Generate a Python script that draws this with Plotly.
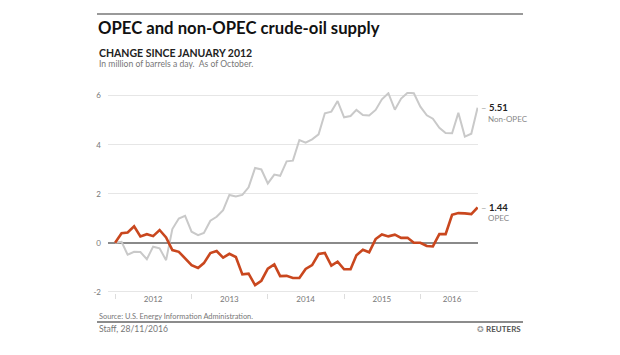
import pandas as pd
import plotly.graph_objects as go

months = pd.date_range("2012-01-01", "2016-10-01", freq="MS")

non_opec = [0, 0.04, -0.49, -0.37, -0.38, -0.67, -0.16, -0.23, -0.71, 0.56, 0.99, 1.10,
            0.45, 0.31, 0.40, 0.90, 1.06, 1.33, 1.95, 1.89, 1.95, 2.26, 3.05, 2.99,
            2.42, 2.78, 2.73, 3.32, 3.35, 4.19, 4.08, 4.22, 4.42, 5.28, 5.35, 5.78,
            5.12, 5.17, 5.42, 5.21, 5.19, 5.42, 5.85, 6.10, 5.43, 5.88, 6.12, 6.10,
            5.55, 5.20, 5.06, 4.69, 4.48, 4.47, 5.30, 4.33, 4.45, 5.51]

opec = [0, 0.39, 0.42, 0.67, 0.26, 0.35, 0.27, 0.52, 0.22, -0.30, -0.37, -0.63,
        -0.91, -1.03, -0.83, -0.42, -0.34, -0.61, -0.45, -0.58, -1.29, -1.26, -1.73, -1.55,
        -1.06, -0.88, -1.36, -1.35, -1.44, -1.44, -1.07, -0.91, -0.46, -0.42, -0.93, -0.77,
        -1.08, -1.08, -0.51, -0.29, -0.39, 0.15, 0.34, 0.26, 0.33, 0.20, 0.20, 0.0,
        0.0, -0.13, -0.15, 0.35, 0.35, 1.14, 1.21, 1.20, 1.17, 1.44]

year_labels = ["2012", "2013", "2014", "2015", "2016"]
year_label_pos = ["2012-07-01", "2013-07-01", "2014-07-01", "2015-07-01", "2016-06-01"]
year_ticks = ["2012-01-01", "2013-01-01", "2014-01-01", "2015-01-01", "2016-01-01"]
y_ticks = [-2, 0, 2, 4, 6]
y_ticktext = ["-2", "0", "2", "4", "6"]

W, H = 620, 355
ML, MR, MT, MB = 108, 142, 92, 62
PW, PH = W - ML - MR, H - MT - MB

def px(x):
    return (x - ML) / PW

def py(y):
    return (H - MB - y) / PH

FONT = "Lato"
ORANGE = "#c9471e"
GREY = "#c9c9c9"

fig = go.Figure()
fig.add_trace(go.Scatter(x=months, y=non_opec, mode="lines",
                         line=dict(color=GREY, width=2), hoverinfo="skip"))
fig.add_trace(go.Scatter(x=months, y=opec, mode="lines",
                         line=dict(color=ORANGE, width=2.6), hoverinfo="skip"))

fig.update_layout(
    width=W, height=H,
    margin=dict(l=ML, r=MR, t=MT, b=MB),
    paper_bgcolor="white", plot_bgcolor="white",
    showlegend=False,
    font=dict(family=FONT, color="#777"),
    xaxis=dict(
        type="date",
        range=["2011-11-28", "2016-10-03"],
        tickmode="array", tickvals=year_label_pos, ticktext=year_labels,
        ticks="", showgrid=False, zeroline=False, showline=False,
        tickfont=dict(size=8, color="#777"),
        minor=dict(tickmode="array", tickvals=year_ticks, ticks="outside",
                   ticklen=5, tickcolor="#ddd", tickwidth=1, showgrid=False),
    ),
    yaxis=dict(
        range=[-2.05, 6.15],
        tickmode="array", tickvals=y_ticks, ticktext=y_ticktext,
        showgrid=True, gridcolor="#e6e6e6", gridwidth=1,
        zeroline=True, zerolinecolor="#8a8a8a", zerolinewidth=1.7,
        ticks="", showline=False, ticklabelstandoff=6,
        tickfont=dict(size=8, color="#777"),
    ),
)

annotations = [
    dict(x=px(96), y=py(28), xref="paper", yref="paper", xanchor="left", yanchor="middle",
         text="<b>OPEC and non-OPEC crude-oil supply</b>", showarrow=False,
         font=dict(size=16.7, color="#111", family=FONT)),
    dict(x=px(97), y=py(53), xref="paper", yref="paper", xanchor="left", yanchor="middle",
         text="<b>CHANGE SINCE JANUARY 2012</b>", showarrow=False,
         font=dict(size=10.5, color="#222", family=FONT)),
    dict(x=px(97), y=py(64), xref="paper", yref="paper", xanchor="left", yanchor="middle",
         text="In million of barrels a day.  As of October.", showarrow=False,
         font=dict(size=8.6, color="#777", family=FONT)),
    dict(x=px(97), y=py(316), xref="paper", yref="paper", xanchor="left", yanchor="middle",
         text="Source: U.S. Energy Information Administration.", showarrow=False,
         font=dict(size=7.4, color="#777", family=FONT)),
    dict(x=px(97), y=py(329), xref="paper", yref="paper", xanchor="left", yanchor="middle",
         text="Staff, 28/11/2016", showarrow=False,
         font=dict(size=8.6, color="#777", family=FONT)),
    dict(x=px(523), y=py(329), xref="paper", yref="paper", xanchor="right", yanchor="middle",
         text="<span style='color:#999'>✪</span> <b>REUTERS</b>", showarrow=False,
         font=dict(size=8, color="#555", family=FONT)),
    dict(x=months[-1], y=non_opec[-1], xref="x", yref="y", xanchor="left", yanchor="middle",
         text="<span style='color:#aaa'>–</span> <b>%.2f</b>" % non_opec[-1], showarrow=False,
         xshift=1, font=dict(size=9.5, color="#222", family=FONT)),
    dict(x=months[-1], y=non_opec[-1], xref="x", yref="y", xanchor="left", yanchor="middle",
         text="Non-OPEC", showarrow=False, xshift=8, yshift=-11,
         font=dict(size=8, color="#888", family=FONT)),
    dict(x=months[-1], y=opec[-1], xref="x", yref="y", xanchor="left", yanchor="middle",
         text="<span style='color:#aaa'>–</span> <b>%.2f</b>" % opec[-1], showarrow=False,
         xshift=1, font=dict(size=9.5, color="#222", family=FONT)),
    dict(x=months[-1], y=opec[-1], xref="x", yref="y", xanchor="left", yanchor="middle",
         text="OPEC", showarrow=False, xshift=8, yshift=-11,
         font=dict(size=8, color="#888", family=FONT)),
]
fig.update_layout(annotations=annotations)

fig.update_layout(shapes=[
    dict(type="line", xref="paper", yref="paper", x0=px(97), x1=px(523), y0=py(14), y1=py(14),
         line=dict(color="#999", width=2)),
    dict(type="line", xref="paper", yref="paper", x0=px(97), x1=px(523), y0=py(322), y1=py(322),
         line=dict(color="#666", width=1.5)),
])

fig.write_html("out.html", config={"displayModeBar": False},
               post_script="document.body.style.margin='0';")
